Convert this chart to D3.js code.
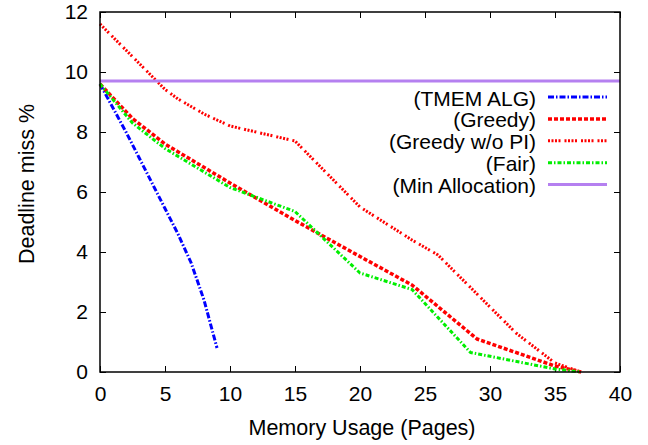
<!DOCTYPE html>
<html><head><meta charset="utf-8">
<script src="https://cdn.jsdelivr.net/npm/d3@7"></script>
<style>body{margin:0;background:#fff}svg{display:block}text{font-family:"Liberation Sans",Arial,sans-serif;fill:#000}</style>
</head><body><svg id="c" width="648" height="445"></svg>
<script>
const xTicks = [0,5,10,15,20,25,30,35,40];
const yTicks = [0,2,4,6,8,10,12];
const tmemX = [0,1,2,3,4,5,6,7,8,9];
const tmemY = [9.6,8.8,8.0,7.15,6.3,5.45,4.6,3.65,2.4,0.8];
const greedyX = [0,2.5,5,10,15,20,24,29,35,37];
const greedyY = [9.6,8.45,7.6,6.3,5.05,3.85,2.9,1.1,0.2,0];
const greedyNoPiX = [0,5,6,7,8,9,10,15,20,24,26,29,32,35,37];
const greedyNoPiY = [11.6,9.42,9.1,8.85,8.6,8.4,8.2,7.7,5.5,4.4,3.9,2.6,1.3,0.3,0];
const fairX = [0,2.5,5,10,15,20,24,28.5,35,37];
const fairY = [9.6,8.3,7.45,6.15,5.35,3.3,2.75,0.65,0.1,0];
const minAlloc = 9.7;
const seriesNames = ["(TMEM ALG)","(Greedy)","(Greedy w/o PI)","(Fair)","(Min Allocation)"];

const svg = d3.select("#c");
const L=100,R=620,T=12,B=372;
const x = d3.scaleLinear().domain([0,40]).range([L,R]);
const y = d3.scaleLinear().domain([0,12]).range([B,T]);

const styles = [
  {color:"#0000ff", w:3, dash:"6,2,1.5,2"},
  {color:"#ff0000", w:3.5, dash:"4,2"},
  {color:"#ff0000", w:3, dash:"2,1.5,2,1.5,2,1.5,2,4"},
  {color:"#00ee00", w:3, dash:"4,2,1.5,2"},
  {color:"#b580f0", w:3, dash:null}
];

const g = svg.append("g");
const tk = 6;
g.append("g").attr("transform",`translate(0,${B})`)
  .call(d3.axisBottom(x).tickValues(xTicks).tickSizeInner(-tk).tickSizeOuter(0).tickPadding(14))
  .call(a=>{a.select(".domain").remove();a.selectAll("text").attr("font-size",21).attr("dy","0.71em");});
g.append("g").attr("transform",`translate(0,${T})`)
  .call(d3.axisTop(x).tickValues(xTicks).tickSizeInner(-tk).tickSizeOuter(0).tickFormat(""))
  .call(a=>a.select(".domain").remove());
g.append("g").attr("transform",`translate(${L},0)`)
  .call(d3.axisLeft(y).tickValues(yTicks).tickSizeInner(-tk).tickSizeOuter(0).tickPadding(12))
  .call(a=>{a.select(".domain").remove();a.selectAll("text").attr("font-size",21);});
g.append("g").attr("transform",`translate(${R},0)`)
  .call(d3.axisRight(y).tickValues(yTicks).tickSizeInner(-tk).tickSizeOuter(0).tickFormat(""))
  .call(a=>a.select(".domain").remove());
g.selectAll(".tick line").attr("stroke","#000").attr("stroke-width",1);

const line = d3.line().x(d=>x(d[0])).y(d=>y(d[1]));
const plot = svg.append("g");
const data = [
  d3.zip(tmemX,tmemY),
  d3.zip(greedyX,greedyY),
  d3.zip(greedyNoPiX,greedyNoPiY),
  d3.zip(fairX,fairY),
  [[0,minAlloc],[40,minAlloc]]
];
data.forEach((d,i)=>{
  const s=styles[i];
  plot.append("path").attr("d",line(d)).attr("fill","none")
    .attr("stroke",s.color).attr("stroke-width",s.w)
    .attr("stroke-dasharray",s.dash).attr("stroke-linejoin","round");
});

svg.append("rect").attr("x",L).attr("y",T).attr("width",R-L).attr("height",B-T)
  .attr("fill","none").attr("stroke","#000").attr("stroke-width",1.5);

const lg = svg.append("g");
seriesNames.forEach((n,i)=>{
  const yy = 97 + i*21.9;
  lg.append("text").attr("x",536).attr("y",yy+8.5)
    .attr("text-anchor","end").attr("font-size",21).text(n);
  const s=styles[i];
  lg.append("line").attr("x1",548).attr("x2",607).attr("y1",yy).attr("y2",yy)
    .attr("stroke",s.color).attr("stroke-width",s.w).attr("stroke-dasharray",s.dash);
});

svg.append("text").attr("x",362).attr("y",435).attr("text-anchor","middle")
  .attr("font-size",21.5).text("Memory Usage (Pages)");
svg.append("text").attr("transform",`translate(34,184) rotate(-90)`)
  .attr("text-anchor","middle").attr("font-size",21.5).text("Deadline miss %");
</script></body></html>
